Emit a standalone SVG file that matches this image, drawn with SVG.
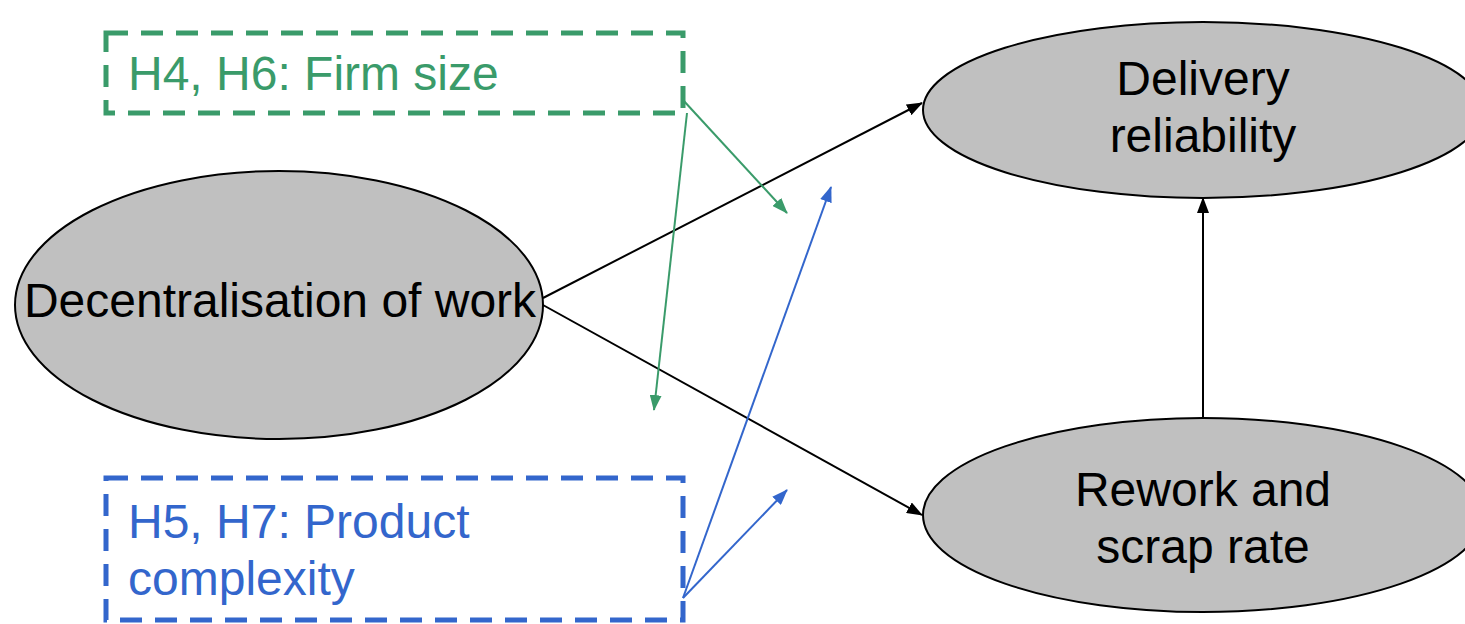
<svg xmlns="http://www.w3.org/2000/svg" width="1465" height="624" viewBox="0 0 1465 624">
<defs>
<marker id="ab" viewBox="0 0 16 12" refX="15" refY="6" markerWidth="16" markerHeight="12" markerUnits="userSpaceOnUse" orient="auto"><path d="M0,0 L16,6 L0,12 Z" fill="#000"/></marker>
<marker id="ag" viewBox="0 0 16 12" refX="15" refY="6" markerWidth="16" markerHeight="12" markerUnits="userSpaceOnUse" orient="auto"><path d="M0,0 L16,6 L0,12 Z" fill="#3A9B6A"/></marker>
<marker id="abl" viewBox="0 0 16 12" refX="15" refY="6" markerWidth="16" markerHeight="12" markerUnits="userSpaceOnUse" orient="auto"><path d="M0,0 L16,6 L0,12 Z" fill="#3366CC"/></marker>
</defs>
<style>
.node{fill:#C0C0C0;stroke:#000;stroke-width:2}
.t{font-family:"Liberation Sans",Arial,sans-serif;font-size:48px;fill:#000;text-anchor:middle}
.box{fill:none;stroke-width:5;stroke-dasharray:22 13}
.gt{font-family:"Liberation Sans",Arial,sans-serif;font-size:48px;fill:#3A9B6A}
.bt{font-family:"Liberation Sans",Arial,sans-serif;font-size:48px;fill:#3366CC}
.cb{stroke:#000;stroke-width:2;fill:none}
.cg{stroke:#3A9B6A;stroke-width:2;fill:none}
.cbl{stroke:#3366CC;stroke-width:2;fill:none}
</style>
<rect width="1465" height="624" fill="#fff"/>
<g id="decentralisation">
<ellipse class="node" cx="279" cy="305" rx="264" ry="134"/>
<text class="t" x="280" y="317">Decentralisation of work</text>
</g>
<g id="delivery">
<ellipse class="node" cx="1203" cy="110" rx="280" ry="88"/>
<text class="t" x="1203" y="95">Delivery</text>
<text class="t" x="1203" y="152">reliability</text>
</g>
<g id="rework">
<ellipse class="node" cx="1203" cy="515" rx="280" ry="97"/>
<text class="t" x="1203" y="506">Rework and</text>
<text class="t" x="1203" y="563">scrap rate</text>
</g>
<g id="firmsize">
<rect class="box" x="106" y="33" width="577" height="80" stroke="#3A9B6A"/>
<text class="gt" x="128" y="90">H4, H6: Firm size</text>
</g>
<g id="complexity">
<rect class="box" x="106" y="478" width="577" height="142" stroke="#3366CC"/>
<text class="bt" x="128" y="538">H5, H7: Product</text>
<text class="bt" x="128" y="595">complexity</text>
</g>
<g id="connectors">
<line class="cb" x1="543" y1="298" x2="922" y2="103" marker-end="url(#ab)"/>
<line class="cb" x1="543" y1="305" x2="922" y2="515" marker-end="url(#ab)"/>
<line class="cb" x1="1203" y1="418" x2="1203" y2="198" marker-end="url(#ab)"/>
<line class="cg" x1="683" y1="100" x2="787" y2="213" marker-end="url(#ag)"/>
<line class="cg" x1="687" y1="113" x2="654" y2="410" marker-end="url(#ag)"/>
<line class="cbl" x1="683" y1="598" x2="831" y2="187" marker-end="url(#abl)"/>
<line class="cbl" x1="683" y1="598" x2="787" y2="490" marker-end="url(#abl)"/>
</g>
</svg>
